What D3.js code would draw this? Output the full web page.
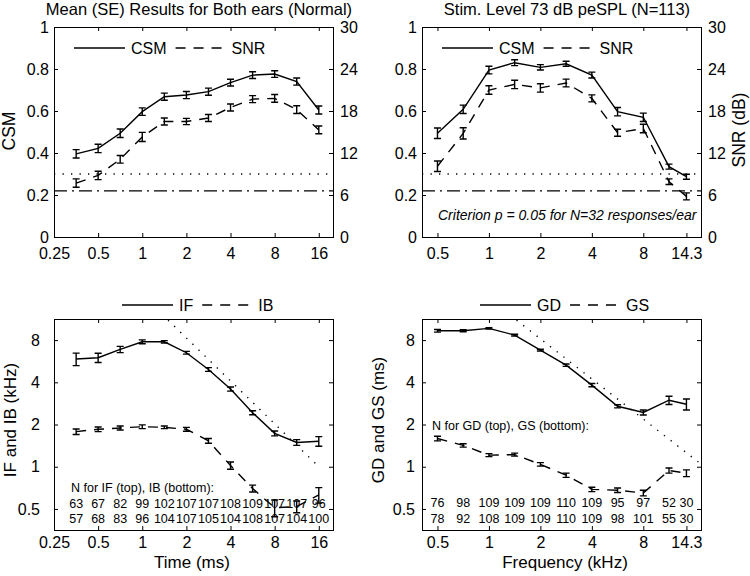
<!DOCTYPE html>
<html><head><meta charset="utf-8">
<script src="https://cdn.jsdelivr.net/npm/d3@7"></script>
<style>
body{margin:0;background:#fff}
svg{display:block}
</style>
</head><body>
<svg id="c" width="750" height="576"></svg>
<script>
// ---------------- DATA ----------------
const timeTicks = [0.25, 0.5, 1, 2, 4, 8, 16];
const timeTickLabels = ["0.25", "0.5", "1", "2", "4", "8", "16"];
const timePoints = [0.354, 0.5, 0.707, 1, 1.414, 2, 2.828, 4, 5.657, 8, 11.31, 16];
const freqTicks = [0.5, 1, 2, 4, 8, 14.3];
const freqTickLabels = ["0.5", "1", "2", "4", "8", "14.3"];
const freqPoints = [0.5, 0.707, 1, 1.414, 2, 2.828, 4, 5.657, 8, 11.31, 14.3];
const csmTicks = [0, 0.2, 0.4, 0.6, 0.8, 1];
const csmTickLabels = ["0", "0.2", "0.4", "0.6", "0.8", "1"];
const snrTicks = [0, 6, 12, 18, 24, 30];
const logTicks = [0.5, 1, 2, 4, 8];
const logTickLabels = ["0.5", "1", "2", "4", "8"];

// Top-left: time domain CSM / SNR
const csmTime   = [0.396, 0.422, 0.494, 0.597, 0.668, 0.676, 0.692, 0.735, 0.771, 0.776, 0.740, 0.605];
const csmTimeSE = [0.020, 0.020, 0.020, 0.018, 0.017, 0.017, 0.017, 0.016, 0.016, 0.016, 0.017, 0.019];
const snrTime   = [7.7, 8.8, 11.1, 14.3, 16.5, 16.5, 17.0, 18.5, 19.7, 19.8, 18.2, 15.3];
const snrTimeSE = [0.6, 0.6, 0.55, 0.65, 0.5, 0.45, 0.5, 0.5, 0.5, 0.55, 0.55, 0.55];

// Top-right: frequency domain CSM / SNR
const csmFreq   = [0.494, 0.608, 0.795, 0.830, 0.808, 0.825, 0.771, 0.597, 0.570, 0.335, 0.287];
const csmFreqSE = [0.025, 0.020, 0.018, 0.014, 0.013, 0.012, 0.014, 0.020, 0.020, 0.012, 0.012];
const snrFreq   = [10.1, 14.8, 21.0, 21.8, 21.3, 22.0, 19.8, 14.9, 15.5, 7.9, 5.8];
const snrFreqSE = [0.75, 0.8, 0.6, 0.6, 0.6, 0.55, 0.5, 0.5, 0.6, 0.4, 0.5];

// Criterion lines (CSM units)
const criterionDotted = 0.30;
const criterionDashDot = 0.22;

// Bottom-left: IF / IB (kHz) vs time
const ifVals = [5.86, 5.99, 6.86, 7.78, 7.78, 6.50, 4.94, 3.58, 2.43, 1.73, 1.49, 1.52];
const ifSE   = [0.60, 0.45, 0.35, 0.25, 0.15, 0.15, 0.15, 0.12, 0.08, 0.07, 0.07, 0.12];
const ibVals = [1.78, 1.85, 1.89, 1.93, 1.91, 1.85, 1.53, 1.02, 0.70, 0.51, 0.52, 0.63];
const ibSE   = [0.08, 0.07, 0.06, 0.06, 0.04, 0.06, 0.06, 0.06, 0.04, 0.07, 0.05, 0.08];
const ifRefLine = [[1.5, 11.1], [15.4, 1.04]];
const nIF = ["63", "67", "82", "99", "102", "107", "107", "108", "109", "107", "107", "96"];
const nIB = ["57", "68", "83", "96", "104", "107", "105", "104", "108", "107", "104", "100"];

// Bottom-right: GD / GS (ms) vs frequency
const gdVals = [9.32, 9.32, 9.70, 8.68, 6.78, 5.30, 3.82, 2.70, 2.44, 2.98, 2.79];
const gdSE   = [0.20, 0.15, 0.12, 0.12, 0.10, 0.10, 0.10, 0.07, 0.10, 0.20, 0.25];
const gsVals = [1.59, 1.42, 1.21, 1.22, 1.04, 0.87, 0.69, 0.68, 0.65, 0.94, 0.90];
const gsSE   = [0.06, 0.04, 0.03, 0.03, 0.03, 0.03, 0.025, 0.025, 0.03, 0.04, 0.05];
const gdRefLine = [[1.45, 11.1], [16.8, 1.08]];
const nGD = ["76", "98", "109", "109", "109", "110", "109", "95", "97", "52", "30"];
const nGS = ["78", "92", "108", "109", "109", "110", "109", "98", "101", "55", "30"];

// ---------------- DRAWING ----------------
const FONT = '"Liberation Sans", Arial, Helvetica, sans-serif';
const svg = d3.select("#c");
const DASH = "10,8", DOT = "1.3,7.2", DASHDOT = "13,5,2,5";

function styleAxis(g, size) {
  g.attr("font-family", FONT).attr("font-size", size);
  g.select(".domain").remove();
  g.selectAll(".tick line").attr("stroke", "#000").attr("stroke-width", 1);
  g.selectAll(".tick text").attr("fill", "#000");
}

function panel(cfg) {
  const {L, R, T, B} = cfg;
  const x = d3.scaleLog().base(2).domain(cfg.xDomain).range([L, R]);
  const y = cfg.yLog ? d3.scaleLog().base(2).domain(cfg.yDomain).range([B, T])
                     : d3.scaleLinear().domain(cfg.yDomain).range([B, T]);
  const g = svg.append("g");

  g.append("g").attr("transform", `translate(0,${B})`)
    .call(d3.axisBottom(x).tickValues(cfg.xTicks).tickFormat((d, i) => cfg.xLabels[i])
      .tickSizeInner(-4).tickSizeOuter(0).tickPadding(cfg.xPad))
    .call(a => styleAxis(a, 16));
  g.append("g").attr("transform", `translate(0,${T})`)
    .call(d3.axisTop(x).tickValues(cfg.xTicks).tickFormat("").tickSizeInner(-4).tickSizeOuter(0))
    .call(a => styleAxis(a, 16));
  g.append("g").attr("transform", `translate(${L},0)`)
    .call(d3.axisLeft(y).tickValues(cfg.yTicks).tickFormat((d, i) => cfg.yLabels[i])
      .tickSizeInner(-4).tickSizeOuter(0).tickPadding(cfg.yPad))
    .call(a => styleAxis(a, 16));
  if (cfg.y2) {
    const y2 = d3.scaleLinear().domain(cfg.y2Domain).range([B, T]);
    g.append("g").attr("transform", `translate(${R},0)`)
      .call(d3.axisRight(y2).tickValues(cfg.y2Ticks).tickFormat(d3.format("d"))
        .tickSizeInner(-4).tickSizeOuter(0).tickPadding(7))
      .call(a => styleAxis(a, 16));
  } else {
    g.append("g").attr("transform", `translate(${R},0)`)
      .call(d3.axisRight(y).tickValues(cfg.yTicks).tickFormat("").tickSizeInner(-4).tickSizeOuter(0))
      .call(a => styleAxis(a, 16));
  }
  g.append("rect").attr("x", L + 0.5).attr("y", T + 0.5).attr("width", R - L).attr("height", B - T)
    .attr("fill", "none").attr("stroke", "#000").attr("stroke-width", 1);

  return {g, x, y};
}

function hline(p, v, dash) {
  p.g.append("line").attr("x1", p.x.range()[0]).attr("x2", p.x.range()[1])
    .attr("y1", p.y(v)).attr("y2", p.y(v))
    .attr("stroke", "#000").attr("stroke-width", 1.3).attr("stroke-dasharray", dash);
}

function refLine(p, pts) {
  p.g.append("path").attr("d", d3.line().x(d => p.x(d[0])).y(d => p.y(d[1]))(pts))
    .attr("fill", "none").attr("stroke", "#000").attr("stroke-width", 1.4).attr("stroke-dasharray", DOT);
}

function series(p, xs, vals, se, dash, yScale) {
  const ys = yScale || p.y;
  const pts = xs.map((xv, i) => [xv, vals[i], se[i]]);
  p.g.append("path").attr("d", d3.line().x(d => p.x(d[0])).y(d => ys(d[1]))(pts))
    .attr("fill", "none").attr("stroke", "#000").attr("stroke-width", 1.4)
    .attr("stroke-dasharray", dash || null);
  const eb = p.g.append("g").attr("stroke", "#000").attr("stroke-width", 1.4).attr("fill", "none");
  pts.forEach(d => {
    const cx = p.x(d[0]), y1 = ys(d[1] - d[2]), y2 = ys(d[1] + d[2]);
    eb.append("path").attr("d", `M${cx},${y1}V${y2}M${cx - 3.5},${y1}H${cx + 3.5}M${cx - 3.5},${y2}H${cx + 3.5}`);
  });
}

function text(x, y, s, size, anchor, extra) {
  const t = svg.append("text").attr("x", x).attr("y", y).text(s)
    .attr("font-family", FONT).attr("font-size", size).attr("fill", "#000")
    .attr("text-anchor", anchor || "start");
  if (extra) extra(t);
  return t;
}
function vtext(x, y, s, size) {
  return svg.append("text").attr("transform", `translate(${x},${y}) rotate(-90)`).text(s)
    .attr("font-family", FONT).attr("font-size", size).attr("fill", "#000").attr("text-anchor", "middle");
}

function legend(x, y, lab1, lab2) {
  const g = svg.append("g");
  let cx = x;
  g.append("line").attr("x1", cx).attr("x2", cx + 51).attr("y1", y).attr("y2", y)
    .attr("stroke", "#000").attr("stroke-width", 1.4);
  cx += 57;
  const t1 = g.append("text").attr("x", cx).attr("y", y + 6).text(lab1)
    .attr("font-family", FONT).attr("font-size", 16);
  cx += t1.node().getComputedTextLength() + 9;
  g.append("line").attr("x1", cx).attr("x2", cx + 50).attr("y1", y).attr("y2", y)
    .attr("stroke", "#000").attr("stroke-width", 1.4).attr("stroke-dasharray", DASH);
  cx += 56;
  g.append("text").attr("x", cx).attr("y", y + 6).text(lab2)
    .attr("font-family", FONT).attr("font-size", 16);
}

// ---- Top-left ----
const p1 = panel({L: 54, R: 333, T: 27, B: 237, xDomain: [0.25, 20], xTicks: timeTicks, xLabels: timeTickLabels, xPad: 11,
  yDomain: [0, 1], yTicks: csmTicks, yLabels: csmTickLabels, yPad: 5, y2: true, y2Domain: [0, 30], y2Ticks: snrTicks});
hline(p1, criterionDotted, DOT);
hline(p1, criterionDashDot, DASHDOT);
const p1snr = d3.scaleLinear().domain([0, 30]).range([237, 27]);
series(p1, timePoints, csmTime, csmTimeSE, null);
series(p1, timePoints, snrTime, snrTimeSE, DASH, p1snr);
legend(74, 48, "CSM", "SNR");
text(199, 15, "Mean (SE) Results for Both ears (Normal)", 16.5, "middle");
vtext(15, 131, "CSM", 17.5);

// ---- Top-right ----
const p2 = panel({L: 422, R: 701, T: 27, B: 237, xDomain: [0.406, 17.4], xTicks: freqTicks, xLabels: freqTickLabels, xPad: 11,
  yDomain: [0, 1], yTicks: csmTicks, yLabels: csmTickLabels, yPad: 5, y2: true, y2Domain: [0, 30], y2Ticks: snrTicks});
hline(p2, criterionDotted, DOT);
hline(p2, criterionDashDot, DASHDOT);
const p2snr = d3.scaleLinear().domain([0, 30]).range([237, 27]);
series(p2, freqPoints, csmFreq, csmFreqSE, null);
series(p2, freqPoints, snrFreq, snrFreqSE, DASH, p2snr);
legend(442, 48, "CSM", "SNR");
text(567, 15, "Stim. Level 73 dB peSPL (N=113)", 16.5, "middle");
vtext(745, 130, "SNR (dB)", 17.5);
text(438, 220, "Criterion p = 0.05 for N=32 responses/ear", 14, "start", t => t.attr("font-style", "italic"));

// ---- Bottom-left ----
const p3 = panel({L: 54, R: 333, T: 319, B: 530, xDomain: [0.25, 20], xTicks: timeTicks, xLabels: timeTickLabels, xPad: 7,
  yLog: true, yDomain: [0.354, 11.31], yTicks: logTicks, yLabels: logTickLabels, yPad: 14});
refLine(p3, ifRefLine);
series(p3, timePoints, ifVals, ifSE, null);
series(p3, timePoints, ibVals, ibSE, DASH);
legend(122, 305, "IF", "IB");
text(71, 492, "N for IF (top), IB (bottom):", 12.5, "start");
timePoints.forEach((t, i) => {
  text(p3.x(t), 508, nIF[i], 12.5, "middle");
  text(p3.x(t), 523, nIB[i], 12.5, "middle");
});
text(192, 568, "Time (ms)", 17, "middle");
vtext(16, 420, "IF and IB (kHz)", 17);

// ---- Bottom-right ----
const p4 = panel({L: 422, R: 701, T: 319, B: 530, xDomain: [0.406, 17.4], xTicks: freqTicks, xLabels: freqTickLabels, xPad: 7,
  yLog: true, yDomain: [0.354, 11.31], yTicks: logTicks, yLabels: logTickLabels, yPad: 7});
refLine(p4, gdRefLine);
series(p4, freqPoints, gdVals, gdSE, null);
series(p4, freqPoints, gsVals, gsSE, DASH);
legend(480, 305, "GD", "GS");
text(432, 430, "N for GD (top), GS (bottom):", 12.5, "start");
freqPoints.forEach((f, i) => {
  text(p4.x(f), 507, nGD[i], 12.5, "middle");
  text(p4.x(f), 523, nGS[i], 12.5, "middle");
});
text(565, 568, "Frequency (kHz)", 17, "middle");
vtext(384, 420, "GD and GS (ms)", 17);
</script>
</body></html>
